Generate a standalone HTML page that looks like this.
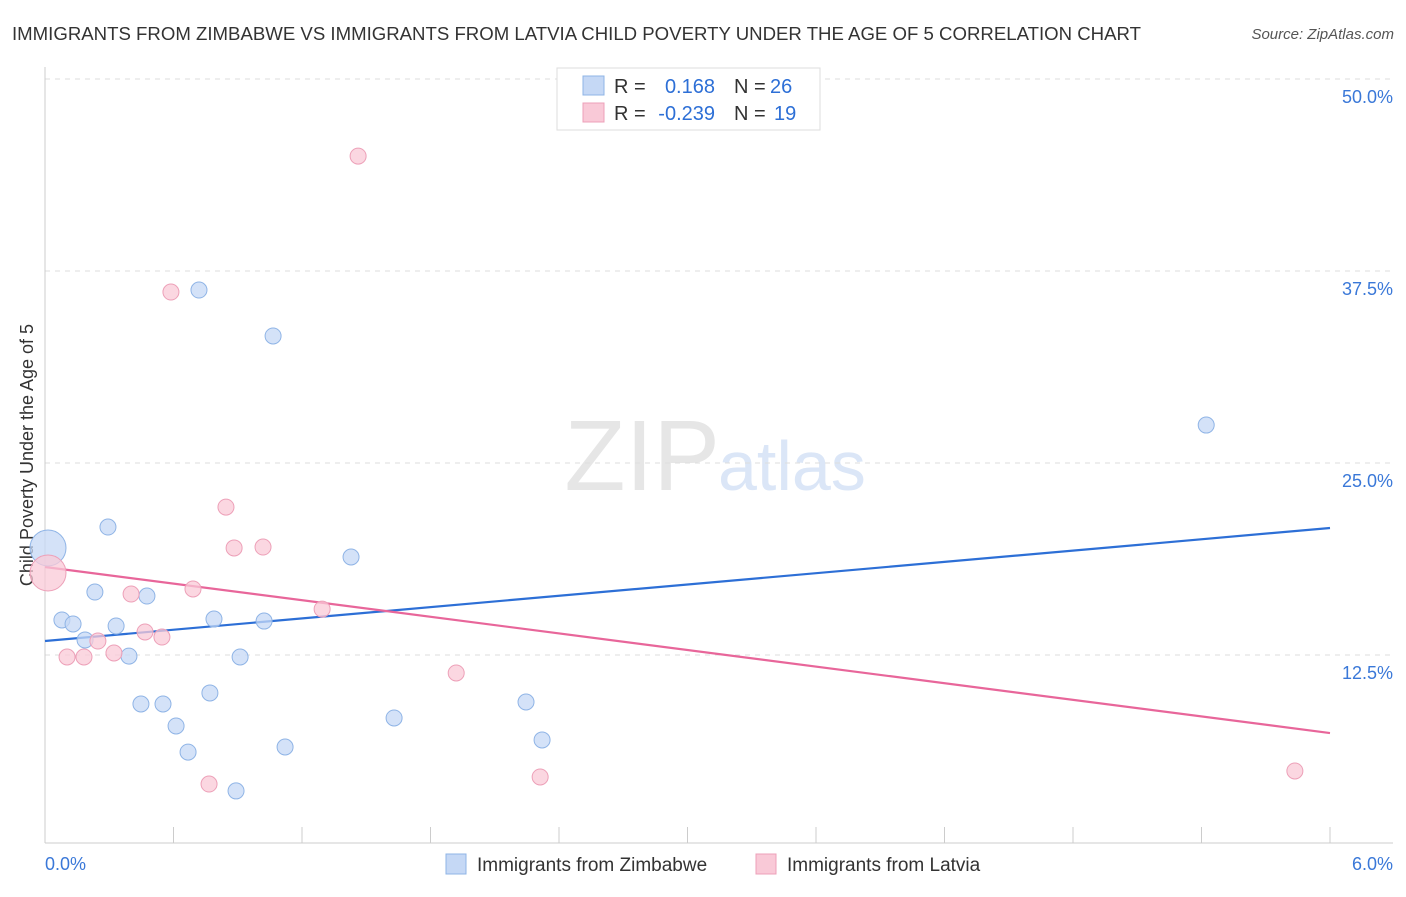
<!DOCTYPE html>
<html><head><meta charset="utf-8"><style>
body{margin:0;background:#fff;font-family:"Liberation Sans",sans-serif;}
svg text{font-family:"Liberation Sans",sans-serif;}
</style></head><body>
<svg id="chart" width="1406" height="892">
<text x="12" y="40" font-size="18" fill="#333" textLength="1129" lengthAdjust="spacingAndGlyphs">IMMIGRANTS FROM ZIMBABWE VS IMMIGRANTS FROM LATVIA CHILD POVERTY UNDER THE AGE OF 5 CORRELATION CHART</text>
<text x="1394" y="39" font-size="15" font-style="italic" fill="#555" text-anchor="end">Source: ZipAtlas.com</text>
<text transform="translate(33,455) rotate(-90)" font-size="18" fill="#333" text-anchor="middle">Child Poverty Under the Age of 5</text>
<text x="720" y="490" font-size="100" fill="#e6e6e6" text-anchor="end" font-family="Liberation Serif">ZIP</text>
<text x="718" y="490" font-size="70" fill="#dbe6f7">atlas</text>
<g id="grid"></g><g id="axes"></g><g id="lines"></g><g id="points"></g>
<g>
<rect x="557" y="68" width="263" height="62" fill="#fff" stroke="#ddd"/>
<rect x="583" y="76" width="21" height="19" fill="#c5d8f5" stroke="#8fb4e6"/>
<rect x="583" y="103" width="21" height="19" fill="#f9c9d7" stroke="#eda0b8"/>
<text x="614" y="93" font-size="20" fill="#333">R =</text>
<text x="715" y="93" font-size="20" fill="#2d6fd6" text-anchor="end">0.168</text>
<text x="734" y="93" font-size="20" fill="#333">N =</text>
<text x="770" y="93" font-size="20" fill="#2d6fd6">26</text>
<text x="614" y="120" font-size="20" fill="#333">R =</text>
<text x="715" y="120" font-size="20" fill="#2d6fd6" text-anchor="end">-0.239</text>
<text x="734" y="120" font-size="20" fill="#333">N =</text>
<text x="774" y="120" font-size="20" fill="#2d6fd6">19</text>
</g>
<g>
<rect x="446" y="854" width="20" height="20" fill="#c5d8f5" stroke="#8fb4e6"/>
<text x="477" y="871" font-size="19" fill="#333">Immigrants from Zimbabwe</text>
<rect x="756" y="854" width="20" height="20" fill="#f9c9d7" stroke="#eda0b8"/>
<text x="787" y="871" font-size="19" fill="#333">Immigrants from Latvia</text>
</g>
<text x="45" y="870" font-size="18" fill="#3a78d8">0.0%</text>
<text x="1393" y="870" font-size="18" fill="#3a78d8" text-anchor="end">6.0%</text>
</svg>
<script>
const yTicks=[12.5,25,37.5,50];
const yTickLabels=["12.5%","25.0%","37.5%","50.0%"];
const xTicks=[0,0.6,1.2,1.8,2.4,3,3.6,4.2,4.8,5.4,6];
const zimX=[0.014,0.079,0.131,0.187,0.233,0.294,0.332,0.392,0.448,0.476,0.551,0.612,0.668,0.719,0.770,0.789,0.892,0.911,1.023,1.065,1.121,1.429,1.630,2.246,2.321,5.422];
const zimY=[19.47,14.78,14.52,13.48,16.60,20.83,14.39,12.43,9.31,16.34,9.31,7.88,6.18,36.26,10.03,14.84,3.65,12.37,14.71,33.27,6.51,18.88,8.40,9.44,6.97,27.47];
const latX=[0.014,0.103,0.182,0.247,0.322,0.402,0.467,0.546,0.588,0.691,0.766,0.845,0.883,1.018,1.294,1.462,1.920,2.312,5.836];
const latY=[17.84,12.37,12.37,13.41,12.63,16.47,14.00,13.67,36.13,16.80,4.10,22.13,19.47,19.53,15.49,44.98,11.33,4.56,4.95];
const zimTrend=[13.41,20.77];
const latTrend=[18.23,7.42];
const NS="http://www.w3.org/2000/svg";
const sx=v=>45+v/6*1285;
const sy=v=>847-v/12.5*192;
function mk(tag,attrs,parent){const e=document.createElementNS(NS,tag);for(const k in attrs)e.setAttribute(k,attrs[k]);document.getElementById(parent).appendChild(e);return e;}
yTicks.forEach((t,i)=>{
 const g=mk('line',{x1:45,x2:1393,y1:sy(t),y2:sy(t),stroke:'#ddd','stroke-dasharray':'5,5'},'grid');
 
 
 const l=mk('text',{x:1393,y:sy(t)+24,'font-size':18,fill:'#3a78d8','text-anchor':'end'},'grid');
 l.textContent=yTickLabels[i];
 
 
});
const ya=mk('line',{x1:45,x2:45,y1:67,y2:843,stroke:'#ccc'},'axes');


const xa=mk('line',{x1:45,x2:1393,y1:843,y2:843,stroke:'#ccc'},'axes');


xTicks.forEach(t=>{
 const k=mk('line',{x1:sx(t),x2:sx(t),y1:827,y2:843,stroke:'#ccc'},'axes');
 
 
});
const zl=mk('line',{x1:sx(0),x2:sx(6),y1:sy(zimTrend[0]),y2:sy(zimTrend[1]),stroke:'#2d6fd6','stroke-width':2.2},'lines');


const ll=mk('line',{x1:sx(0),x2:sx(6),y1:sy(latTrend[0]),y2:sy(latTrend[1]),stroke:'#e8669a','stroke-width':2.2},'lines');


zimX.forEach((x,i)=>{
 const c=mk('circle',{cx:sx(x),cy:sy(zimY[i]),r:i===0?18:8,fill:'#c5d8f5','fill-opacity':0.75,stroke:'#8fb4e6'},'points');
 
 
});
latX.forEach((x,i)=>{
 const c=mk('circle',{cx:sx(x),cy:sy(latY[i]),r:i===0?18:8,fill:'#f9c9d7','fill-opacity':0.75,stroke:'#eda0b8'},'points');
 
 
});
</script>
</body></html>
